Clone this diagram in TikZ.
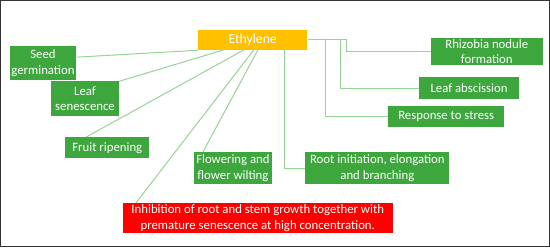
\documentclass[tikz,border=0pt]{standalone}
\usepackage{fontspec}
\setmainfont{Carlito}
\usetikzlibrary{positioning}
\definecolor{leafgreen}{RGB}{61,166,61}
\definecolor{linkgreen}{RGB}{150,212,150}
\definecolor{ethyl}{RGB}{255,192,0}
\definecolor{alarm}{RGB}{255,0,0}

\begin{document}
\begin{tikzpicture}[x=1pt,y=-1pt,font=\fontsize{12.6}{15}\selectfont,
  effect/.style={fill=leafgreen,text=white,align=center,inner sep=0pt},
  link/.style={draw=linkgreen,line width=1pt}]
% frame
\draw[line width=0.8pt,black!80] (3,3) rectangle (545,246);
% hormone
\node[fill=ethyl,text=white,font=\fontsize{13.5}{15}\selectfont,minimum width=108,minimum height=20] (eth) at (252,42) {Ethylene};
% effects on the left
\node[effect,minimum width=66,minimum height=34] (seed) at (45,65) {Seed\\germination};
\node[effect,minimum width=67,minimum height=34] (lsen) at (86.5,100) {Leaf\\senescence};
\node[effect,minimum width=83,minimum height=21] (fruit) at (108.5,148.5) {Fruit ripening};
\node[effect,minimum width=77,minimum height=31] (flow) at (232.5,168.5) {Flowering and\\flower wilting};
\node[effect,fill=alarm,minimum width=266,minimum height=30] (inhib) at (257,218)
  {Inhibition of root and stem growth together with\\premature senescence at high concentration.};
% effects on the right
\node[effect,minimum width=142,minimum height=31] (root) at (375,168.5) {Root initiation, elongation\\and branching};
\node[effect,minimum width=110,minimum height=27] (rhiz) at (483,53.5) {Rhizobia nodule\\formation};
\node[effect,minimum width=99,minimum height=21] (labs) at (465.5,89.5) {Leaf abscission};
\node[effect,minimum width=114,minimum height=21] (stress) at (443,117.5) {Response to stress};
% link ends on the hormone box
\coordinate (e1) at (223,52);
\coordinate (e2) at (243,52);
\coordinate (e3) at (253,52);
\coordinate (e4) at (257,52);
\coordinate (e5) at (283,52);
% straight links
\draw[link] (seed.east |- 0,59) -- (eth.south west);
\draw[link] (lsen.north east) -- (e1);
\draw[link] ([xshift=21pt]fruit.north west) -- (e2);
\draw[link] ([xshift=13pt]inhib.north west) -- (e3);
\draw[link] ([xshift=9pt]flow.north west) -- (e4);
% elbow links
\draw[link] (eth.east) -- (345,42) |- (rhiz.west);
\draw[link] (339,42) |- (labs.west);
\draw[link] (324,42) |- (stress.west);
\draw[link] (e5) |- (root.west);
\end{tikzpicture}
\end{document}
